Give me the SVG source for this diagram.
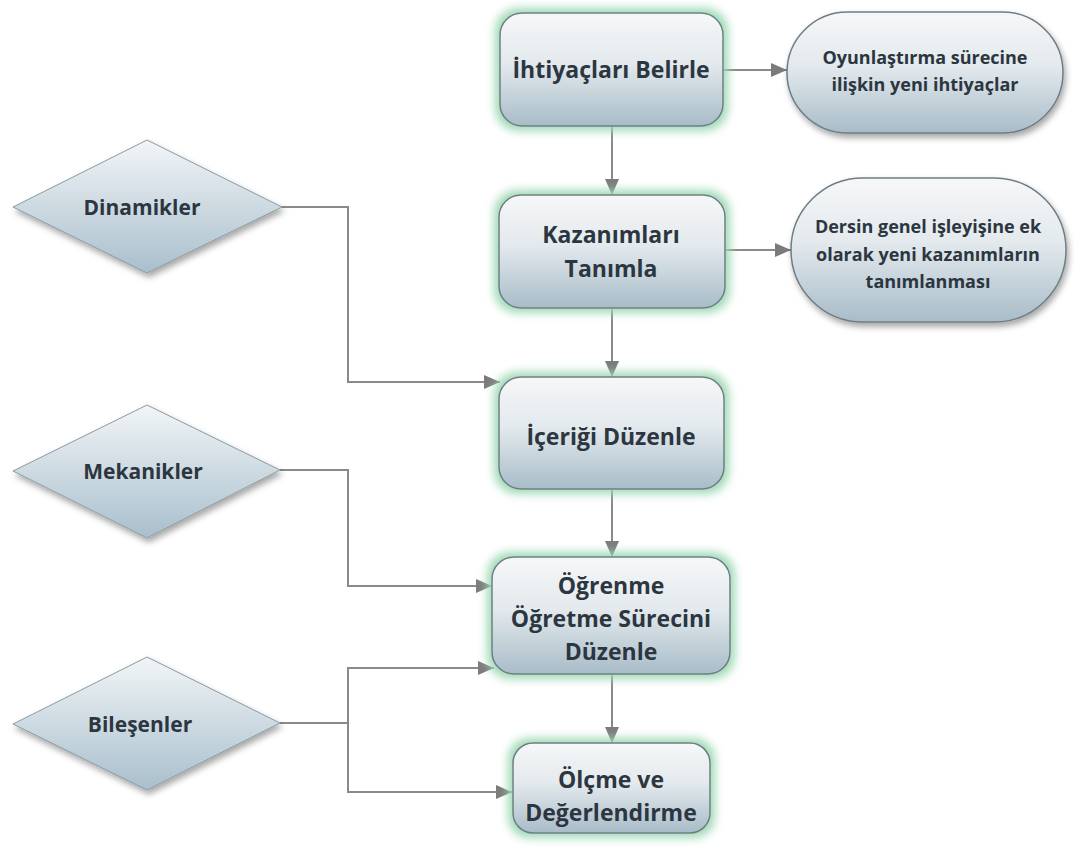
<svg xmlns="http://www.w3.org/2000/svg" width="1081" height="848" viewBox="0 0 1081 848">
<defs>
<linearGradient id="g" x1="0" y1="0" x2="0" y2="1">
<stop offset="0" stop-color="#f6f7f8"/>
<stop offset="0.45" stop-color="#e3e9ed"/>
<stop offset="1" stop-color="#a8bcc8"/>
</linearGradient>
<linearGradient id="gd" x1="0" y1="0" x2="0" y2="1">
<stop offset="0" stop-color="#f2f5f7"/>
<stop offset="1" stop-color="#a9bfcc"/>
</linearGradient>
<filter id="glow" x="-20%" y="-25%" width="140%" height="150%">
<feMorphology in="SourceAlpha" operator="dilate" radius="4" result="d"/>
<feGaussianBlur in="d" stdDeviation="5" result="b"/>
<feFlood flood-color="#9ed8b4" flood-opacity="1"/>
<feComposite in2="b" operator="in" result="gl"/>
<feMerge><feMergeNode in="gl"/><feMergeNode in="SourceGraphic"/></feMerge>
</filter>
<filter id="shadow" x="-20%" y="-20%" width="140%" height="150%">
<feGaussianBlur in="SourceAlpha" stdDeviation="3" result="b"/>
<feOffset dx="2" dy="4" in="b" result="o"/>
<feFlood flood-color="#000" flood-opacity="0.35"/>
<feComposite in2="o" operator="in" result="s"/>
<feMerge><feMergeNode in="s"/><feMergeNode in="SourceGraphic"/></feMerge>
</filter>
<marker id="arr" viewBox="0 0 16 14" refX="16" refY="7" markerWidth="16" markerHeight="14" markerUnits="userSpaceOnUse" orient="auto">
<path d="M0,0 L16,7 L0,14 Z" fill="#7b7b7b"/>
</marker>
</defs>
<style>
.box{fill:url(#g);stroke:#6e7d84;stroke-width:1.5;filter:url(#glow)}
.ell{fill:url(#g);stroke:#6e7d84;stroke-width:1.5;filter:url(#shadow)}
.dia{fill:url(#gd);stroke:#8a9aa2;stroke-width:1;filter:url(#shadow)}
.t{font-family:"Open Sans","Noto Sans","DejaVu Sans",sans-serif;font-weight:bold;fill:#2c3640;text-anchor:middle}
.m{font-size:23px}
.s{font-size:18px}
.d{font-size:21px}
.c{fill:none;stroke:#8a8a8a;stroke-width:2}
</style>
<g id="connectors">
<line class="c" x1="723" y1="70" x2="787" y2="70" marker-end="url(#arr)"/>
<line class="c" x1="612" y1="126" x2="612" y2="195" marker-end="url(#arr)"/>
<line class="c" x1="725" y1="250" x2="791" y2="250" marker-end="url(#arr)"/>
<line class="c" x1="612" y1="308" x2="612" y2="377" marker-end="url(#arr)"/>
<line class="c" x1="612" y1="489" x2="612" y2="557" marker-end="url(#arr)"/>
<line class="c" x1="612" y1="674" x2="612" y2="743" marker-end="url(#arr)"/>
<polyline class="c" points="282,207 348,207 348,382 500,382" marker-end="url(#arr)"/>
<polyline class="c" points="280,470 348,470 348,586 492,586" marker-end="url(#arr)"/>
<polyline class="c" points="348,668 348,792 512,792" marker-end="url(#arr)"/>
<polyline class="c" points="280,723 348,723"/>
<line class="c" x1="347" y1="668" x2="494" y2="668" marker-end="url(#arr)"/>
</g>
<g id="n1"><rect class="box" x="500" y="13" width="223" height="113" rx="22"/><text class="t m" x="611" y="78">İhtiyaçları Belirle</text></g>
<g id="n2"><rect class="box" x="499" y="195" width="226" height="113" rx="22"/><text class="t m" x="611" y="243">Kazanımları</text><text class="t m" x="611" y="277">Tanımla</text></g>
<g id="n3"><rect class="box" x="499" y="377" width="225" height="112" rx="22"/><text class="t m" x="611" y="445">İçeriği Düzenle</text></g>
<g id="n4"><rect class="box" x="492" y="557" width="238" height="117" rx="22"/><text class="t m" x="611" y="594">Öğrenme</text><text class="t m" x="611" y="627">Öğretme Sürecini</text><text class="t m" x="611" y="660">Düzenle</text></g>
<g id="n5"><rect class="box" x="513" y="743" width="197" height="90" rx="20"/><text class="t m" x="611" y="788">Ölçme ve</text><text class="t m" x="611" y="821">Değerlendirme</text></g>
<g id="e1"><rect class="ell" x="787" y="12" width="276" height="121" rx="60.5"/><text class="t s" x="925" y="64">Oyunlaştırma sürecine</text><text class="t s" x="925" y="91">ilişkin yeni ihtiyaçlar</text></g>
<g id="e2"><rect class="ell" x="791" y="178" width="275" height="144" rx="72"/><text class="t s" x="928" y="233">Dersin genel işleyişine ek</text><text class="t s" x="928" y="261">olarak yeni kazanımların</text><text class="t s" x="928" y="288">tanımlanması</text></g>
<g id="d1"><polygon class="dia" points="13,207 147,140 282,207 147,273"/><text class="t d" x="142" y="215">Dinamikler</text></g>
<g id="d2"><polygon class="dia" points="13,471 147,405 280,470 147,538"/><text class="t d" x="143" y="479">Mekanikler</text></g>
<g id="d3"><polygon class="dia" points="13,724 147,657 280,723 147,790"/><text class="t d" x="140" y="732">Bileşenler</text></g>
</svg>
